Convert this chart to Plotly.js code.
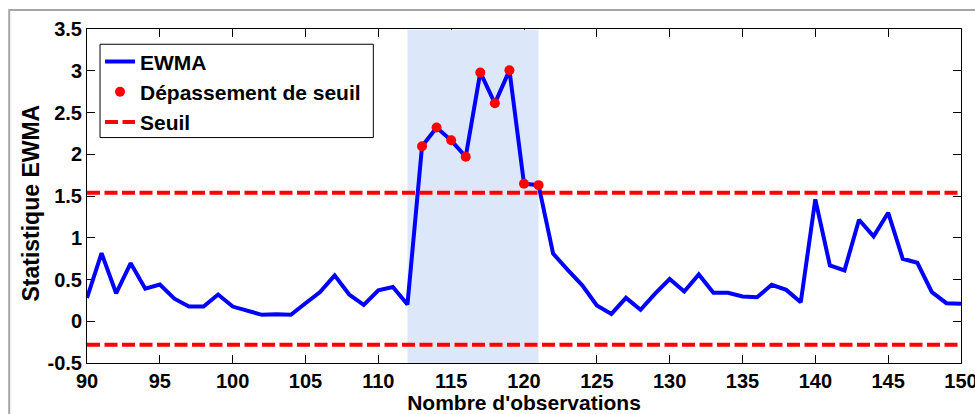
<!DOCTYPE html>
<html>
<head>
<meta charset="utf-8">
<script src="https://cdn.plot.ly/plotly-3.0.1.min.js"></script>
<style>html,body{margin:0;padding:0;background:#fff;}#chart{width:975px;height:414px;}</style>
</head>
<body>
<div id="chart"></div>
<script>
// ---- data ----
const observations = [90,91,92,93,94,95,96,97,98,99,100,101,102,103,104,105,106,107,108,109,110,
  111,112,113,114,115,116,117,118,119,120,121,122,123,124,125,126,127,128,129,130,
  131,132,133,134,135,136,137,138,139,140,141,142,143,144,145,146,147,148,149,150];
const ewma = [0.28,0.815,0.335,0.695,0.39,0.44,0.27,0.176,0.176,0.32,0.176,0.128,0.077,0.085,0.077,0.216,0.35,0.55,0.32,0.196,0.37,
  0.41,0.2,2.095,2.32,2.167,1.97,2.98,2.61,3.006,1.647,1.63,0.81,0.616,0.43,0.19,0.088,0.28,0.137,0.33,0.505,
  0.356,0.56,0.34,0.34,0.296,0.288,0.436,0.376,0.228,1.46,0.668,0.608,1.216,1.016,1.30,0.748,0.70,0.348,0.216,0.209];
const seuilHaut = 1.54;
const seuilBas = -0.28;
const zoneX = [112, 121];
const xRange = [90, 150];
const yRange = [-0.5, 3.5];
const xTickVals = [90,95,100,105,110,115,120,125,130,135,140,145,150];
const yTickVals = [-0.5,0,0.5,1,1.5,2,2.5,3,3.5];
const yTickText = ['-0.5','0','0.5','1','1.5','2','2.5','3','3.5'];
const seriesNames = ['EWMA', 'Dépassement de seuil', 'Seuil'];
const xTitle = "Nombre d'observations";
const yTitle = 'Statistique EWMA';

// exceedances derived from the series
const exX = [], exY = [];
observations.forEach((x, i) => { if (ewma[i] > seuilHaut) { exX.push(x); exY.push(ewma[i]); } });

const fam = 'Liberation Sans, Arial, sans-serif';
const font = {family: fam, size: 20, weight: 'bold', color: '#000'};
const legendFont = {family: fam, size: 21, weight: 'bold', color: '#000'};
const xTitleFont = {family: fam, size: 21, weight: 'bold', color: '#000'};
const yTitleFont = {family: fam, size: 23, weight: 'bold', color: '#000'};

const traces = [
  {x: [zoneX[0], zoneX[0], zoneX[1], zoneX[1]], y: [yRange[0], yRange[1] - 0.01, yRange[1] - 0.01, yRange[0]],
   type: 'scatter', mode: 'lines', fill: 'toself', fillcolor: 'rgb(220,232,249)',
   line: {width: 0}, showlegend: false, hoverinfo: 'skip'},
  {x: observations, y: ewma, type: 'scatter', mode: 'lines', name: seriesNames[0],
   line: {color: '#0000ff', width: 4}},
  {x: exX, y: exY, type: 'scatter', mode: 'markers', name: seriesNames[1],
   marker: {color: '#ff0000', size: 10}},
  {x: [xRange[0], xRange[1], null, xRange[0], xRange[1]], y: [seuilHaut, seuilHaut, null, seuilBas, seuilBas],
   type: 'scatter', mode: 'lines', name: seriesNames[2], connectgaps: false,
   line: {color: '#ff0000', width: 4, dash: '13px,4.5px'}}
];

const layout = {
  width: 975, height: 414,
  margin: {l: 87, r: 14, t: 29, b: 51, pad: 0},
  paper_bgcolor: '#fff', plot_bgcolor: '#fff',
  font: font,
  showlegend: true,
  legend: {x: 0.0149, y: 0.963, xanchor: 'left', yanchor: 'top',
    bgcolor: 'rgba(0,0,0,0)', borderwidth: 0, font: legendFont, tracegroupgap: 0},
  xaxis: {range: xRange, tickvals: xTickVals, ticks: 'inside', ticklen: 8, tickcolor: '#000', tickwidth: 1,
    showline: true, linecolor: '#000', linewidth: 1, mirror: 'ticks', showgrid: false, zeroline: false,
    layer: 'below traces', tickfont: font, ticklabeloverflow: 'allow',
    title: {text: xTitle, font: xTitleFont, standoff: 2}},
  yaxis: {range: yRange, tickvals: yTickVals, ticktext: yTickText, ticks: 'inside', ticklen: 8, tickcolor: '#000', tickwidth: 1,
    showline: true, linecolor: '#000', linewidth: 1, mirror: 'ticks', showgrid: false, zeroline: false,
    layer: 'below traces', tickfont: font},
  annotations: [
    {text: yTitle, xref: 'paper', yref: 'paper', x: -0.0644, y: 0.4795, xanchor: 'center', yanchor: 'middle',
     textangle: -90, showarrow: false, font: yTitleFont}
  ],
  shapes: [
    {type: 'rect', xref: 'paper', yref: 'paper', x0: -0.089, x1: 1.2, y0: -0.5, y1: 1.057,
     line: {color: '#a6a6a6', width: 2}, fillcolor: 'rgba(0,0,0,0)', layer: 'below'},
    {type: 'rect', xref: 'paper', yref: 'paper', x0: 0.0149, x1: 0.3276, y0: 0.675, y1: 0.9543,
     line: {color: '#000', width: 1}, fillcolor: '#fff', layer: 'above'}
  ]
};

Plotly.newPlot('chart', traces, layout, {staticPlot: true, displayModeBar: false});
</script>
</body>
</html>
